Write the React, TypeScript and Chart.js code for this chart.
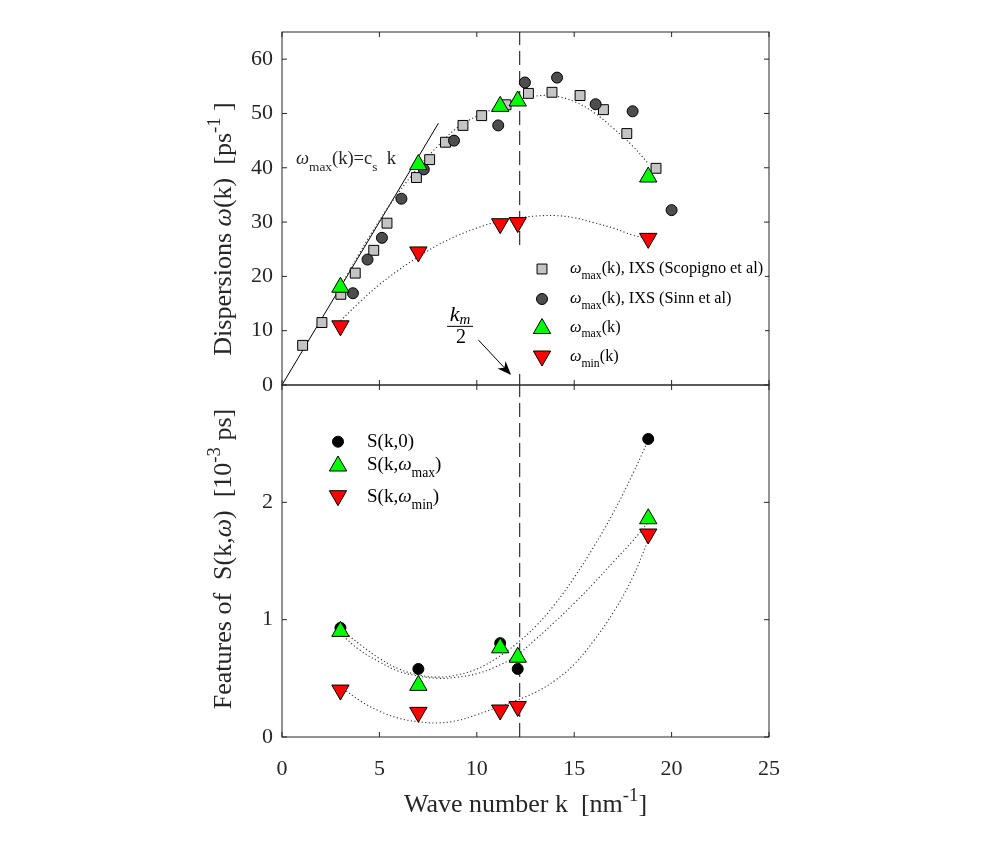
import React, { useEffect, useRef } from 'react';
import { Chart, registerables } from 'chart.js';

Chart.register(...registerables);

const SERIF = '"Liberation Serif", "Times New Roman", Times, serif';
const INK = '#262626';

// ---------- axes ----------
const kTicks = [0, 5, 10, 15, 20, 25];
const omegaTicks = [0, 10, 20, 30, 40, 50, 60];
const sTicks = [0, 1, 2];
const kRange = [0, 25];
const omegaRange = [0, 65];
const sRange = [0, 3];

// ---------- upper panel: dispersions ----------
const scopignoK = [1.06, 2.05, 3.02, 3.76, 4.71, 5.39, 6.9, 7.58, 8.39, 9.29, 10.25, 11.5, 12.65, 13.86, 15.3, 16.5, 17.7, 19.2];
const scopignoW = [7.3, 11.5, 16.7, 20.6, 24.8, 29.8, 38.2, 41.5, 44.7, 47.8, 49.6, 51.6, 53.7, 53.9, 53.3, 50.7, 46.3, 39.9];
const sinnK = [3.64, 4.39, 5.13, 6.13, 7.28, 8.83, 11.1, 12.47, 14.12, 16.1, 18.0, 20.0];
const sinnW = [16.9, 23.1, 27.1, 34.3, 39.7, 45.0, 47.8, 55.7, 56.6, 51.7, 50.4, 32.2];
const modelK = [3.0, 7.0, 11.2, 12.1, 18.8];
const omegaMaxVals = [18.0, 40.6, 51.3, 52.3, 38.3];
const omegaMinVals = [10.9, 24.5, 29.7, 29.9, 27.0];
const fitK = [3, 4, 5, 6, 7, 8, 9, 10, 11, 12, 13, 14, 15, 16, 17, 18, 18.8];
const omegaMaxFit = [18.1, 24.4, 30.3, 35.5, 40.1, 44.0, 47.4, 49.5, 51.0, 52.4, 53.2, 53.2, 52.2, 50.2, 47.3, 44.0, 40.8];
const omegaMinFit = [11.8, 15.3, 18.5, 21.2, 23.6, 25.8, 27.5, 28.9, 30.0, 30.7, 31.1, 31.2, 30.8, 29.9, 28.9, 27.6, 27.0];
const soundK = [0, 8.03];
const soundW = [0, 48.2];
const halfKm = 12.2;

// ---------- lower panel: S(k,w) features ----------
const s0Vals = [0.93, 0.58, 0.80, 0.58, 2.54];
const sMaxVals = [0.90, 0.44, 0.76, 0.68, 1.86];
const sMinVals = [0.40, 0.21, 0.23, 0.26, 1.73];
const s0Fit = [0.92, 0.79, 0.67, 0.58, 0.53, 0.51, 0.53, 0.58, 0.67, 0.79, 0.94, 1.13, 1.36, 1.62, 1.91, 2.24, 2.53];
const sMaxFit = [0.88, 0.74, 0.64, 0.56, 0.52, 0.50, 0.51, 0.54, 0.60, 0.69, 0.83, 0.98, 1.14, 1.31, 1.49, 1.67, 1.83];
const sMinFit = [0.43, 0.31, 0.22, 0.16, 0.13, 0.12, 0.14, 0.19, 0.25, 0.31, 0.38, 0.48, 0.62, 0.82, 1.06, 1.36, 1.68];

// ---------- annotation anchors (data coordinates) ----------
const soundLabelAt = [0.72, 40.7];
const fractionAt = [9.14, 10.8];
const arrowFrom = [10.08, 8.3];
const arrowTo = [11.76, 1.85];

type Seg = { t: string; sub?: boolean; sup?: boolean; it?: boolean };

const topLegend: Seg[][] = [
  [{ t: 'ω', it: true }, { t: 'max', sub: true }, { t: '(k), IXS (Scopigno et al)' }],
  [{ t: 'ω', it: true }, { t: 'max', sub: true }, { t: '(k), IXS (Sinn et al)' }],
  [{ t: 'ω', it: true }, { t: 'max', sub: true }, { t: '(k)' }],
  [{ t: 'ω', it: true }, { t: 'min', sub: true }, { t: '(k)' }],
];
const bottomLegend: Seg[][] = [
  [{ t: 'S(k,0)' }],
  [{ t: 'S(k,' }, { t: 'ω', it: true }, { t: 'max', sub: true }, { t: ')' }],
  [{ t: 'S(k,' }, { t: 'ω', it: true }, { t: 'min', sub: true }, { t: ')' }],
];
const soundLabel: Seg[] = [{ t: 'ω', it: true }, { t: 'max', sub: true }, { t: '(k)=c' }, { t: 's', sub: true }, { t: '  k' }];
const topYTitle: Seg[] = [{ t: 'Dispersions ' }, { t: 'ω', it: true }, { t: '(k)  [ps' }, { t: '-1', sup: true }, { t: ' ]' }];
const bottomYTitle: Seg[] = [{ t: 'Features of  S(k,' }, { t: 'ω', it: true }, { t: ')  [10' }, { t: '-3', sup: true }, { t: ' ps]' }];
const xTitle: Seg[] = [{ t: 'Wave number k  [nm' }, { t: '-1', sup: true }, { t: ']' }];

const zip = (xs: number[], ys: number[]) => xs.map((x, i) => ({ x, y: ys[i] }));

function segFont(s: Seg, size: number) {
  const sz = s.sub || s.sup ? size * 0.72 : size;
  return `${s.it ? 'italic ' : ''}${sz}px ${SERIF}`;
}
function measureRich(ctx: CanvasRenderingContext2D, segs: Seg[], size: number) {
  let w = 0;
  for (const s of segs) {
    ctx.font = segFont(s, size);
    w += ctx.measureText(s.t).width;
  }
  return w;
}
function drawRich(ctx: CanvasRenderingContext2D, segs: Seg[], x: number, baseline: number, size: number) {
  let cx = x;
  ctx.textAlign = 'left';
  ctx.textBaseline = 'alphabetic';
  for (const s of segs) {
    ctx.font = segFont(s, size);
    const dy = s.sub ? size * 0.36 : s.sup ? -size * 0.42 : 0;
    ctx.fillText(s.t, cx, baseline + dy);
    cx += ctx.measureText(s.t).width;
  }
  return cx;
}
function drawRotatedTitle(ctx: CanvasRenderingContext2D, segs: Seg[], cx: number, cy: number, size: number) {
  ctx.save();
  ctx.translate(cx, cy);
  ctx.rotate(-Math.PI / 2);
  ctx.fillStyle = INK;
  const w = measureRich(ctx, segs, size);
  drawRich(ctx, segs, -w / 2, size * 0.33, size);
  ctx.restore();
}
function drawMarker(ctx: CanvasRenderingContext2D, style: string, x: number, y: number, r: number, fill: string, down = false) {
  ctx.save();
  ctx.fillStyle = fill;
  ctx.strokeStyle = '#000';
  ctx.lineWidth = 1;
  ctx.beginPath();
  if (style === 'rect') {
    const s = r * Math.SQRT1_2;
    ctx.rect(x - s, y - s, 2 * s, 2 * s);
  } else if (style === 'circle') {
    ctx.arc(x, y, r, 0, Math.PI * 2);
  } else {
    const d = down ? -1 : 1;
    ctx.moveTo(x, y - d * r);
    ctx.lineTo(x + 0.866 * r, y + (d * r) / 2);
    ctx.lineTo(x - 0.866 * r, y + (d * r) / 2);
    ctx.closePath();
  }
  ctx.fill();
  ctx.stroke();
  ctx.restore();
}
function frameAndTicks(chart: any, yVals: number[]) {
  const { ctx, chartArea: a, scales } = chart;
  const xs = scales.x;
  const ys = scales.y;
  const L = 5;
  ctx.save();
  ctx.strokeStyle = INK;
  ctx.lineWidth = 1;
  ctx.strokeRect(a.left, a.top, a.right - a.left, a.bottom - a.top);
  ctx.beginPath();
  for (const v of kTicks) {
    const px = xs.getPixelForValue(v);
    ctx.moveTo(px, a.bottom);
    ctx.lineTo(px, a.bottom - L);
    ctx.moveTo(px, a.top);
    ctx.lineTo(px, a.top + L);
  }
  for (const v of yVals) {
    const py = ys.getPixelForValue(v);
    ctx.moveTo(a.left, py);
    ctx.lineTo(a.left + L, py);
    ctx.moveTo(a.right, py);
    ctx.lineTo(a.right - L, py);
  }
  ctx.stroke();
  ctx.restore();
}

const dotted = (data: { x: number; y: number }[]) => ({
  data,
  showLine: true,
  pointRadius: 0,
  borderColor: '#333',
  borderWidth: 1.1,
  borderDash: [1.2, 2.4],
  tension: 0.4,
  fill: false,
});
const dashedLine = (yMax: number) => ({
  data: [{ x: halfKm, y: 0 }, { x: halfKm, y: yMax }],
  showLine: true,
  pointRadius: 0,
  borderColor: '#333',
  borderWidth: 1.2,
  borderDash: [14, 6],
  fill: false,
});
const markers = (data: any, style: string, r: number, fill: string, rot = 0) => ({
  data,
  showLine: false,
  pointStyle: style,
  pointRadius: r,
  pointRotation: rot,
  pointBackgroundColor: fill,
  pointBorderColor: '#000',
  pointBorderWidth: 1,
});

const TRI = 10;
const SQ = 7;
const CIR = 5.5;
const tickFont = { family: SERIF, size: 22 };

function yScale(range: number[], ticks: number[]) {
  return {
    type: 'linear',
    position: 'left',
    min: range[0],
    max: range[1],
    afterBuildTicks: (s: any) => {
      s.ticks = ticks.map((v) => ({ value: v }));
    },
    afterFit: (s: any) => {
      s.width = 282;
    },
    ticks: { font: tickFont, color: INK, padding: 9 },
    grid: { display: false, drawTicks: false },
    border: { display: false },
  };
}

const topPlugin = {
  id: 'topDecor',
  afterDatasetsDraw(chart: any) {
    const { ctx, chartArea: a, scales } = chart;
    const xs = scales.x;
    const ys = scales.y;
    frameAndTicks(chart, omegaTicks);

    ctx.save();
    ctx.fillStyle = INK;
    // c_s k annotation
    drawRich(ctx, soundLabel, xs.getPixelForValue(soundLabelAt[0]), ys.getPixelForValue(soundLabelAt[1]), 18.5);

    // k_m / 2 fraction
    const fx = xs.getPixelForValue(fractionAt[0]);
    const fy = ys.getPixelForValue(fractionAt[1]);
    ctx.fillStyle = '#000';
    ctx.textAlign = 'left';
    ctx.textBaseline = 'alphabetic';
    ctx.font = `italic 22px ${SERIF}`;
    const kw = ctx.measureText('k').width;
    ctx.font = `italic 15px ${SERIF}`;
    const mw = ctx.measureText('m').width;
    const nx0 = fx - (kw + mw) / 2;
    ctx.font = `italic 22px ${SERIF}`;
    ctx.fillText('k', nx0, fy - 5);
    ctx.font = `italic 15px ${SERIF}`;
    ctx.fillText('m', nx0 + kw, fy - 2.5);
    ctx.font = `20px ${SERIF}`;
    ctx.textAlign = 'center';
    ctx.fillText('2', fx + 1, fy + 16.5);
    ctx.fillRect(fx - 13, fy - 0.5, 26, 1);

    // arrow
    const x0 = xs.getPixelForValue(arrowFrom[0]);
    const y0 = ys.getPixelForValue(arrowFrom[1]);
    const x1 = xs.getPixelForValue(arrowTo[0]);
    const y1 = ys.getPixelForValue(arrowTo[1]);
    const ang = Math.atan2(y1 - y0, x1 - x0);
    const hl = 14;
    const hw = 5.5;
    ctx.strokeStyle = '#000';
    ctx.lineWidth = 1;
    ctx.beginPath();
    ctx.moveTo(x0, y0);
    ctx.lineTo(x1 - Math.cos(ang) * hl * 0.6, y1 - Math.sin(ang) * hl * 0.6);
    ctx.stroke();
    ctx.beginPath();
    const bx = x1 - Math.cos(ang) * hl;
    const by = y1 - Math.sin(ang) * hl;
    const nx = -Math.sin(ang);
    const ny = Math.cos(ang);
    ctx.moveTo(x1, y1);
    ctx.lineTo(bx + nx * hw, by + ny * hw);
    ctx.lineTo(x1 - Math.cos(ang) * hl * 0.7, y1 - Math.sin(ang) * hl * 0.7);
    ctx.lineTo(bx - nx * hw, by - ny * hw);
    ctx.closePath();
    ctx.fill();

    // legend
    ctx.fillStyle = '#fff';
    ctx.fillRect(a.left + 233, a.top + 218, 250, 124);
    const rows = [237, 267, 295.5, 325];
    const mx = a.left + 260;
    drawMarker(ctx, 'rect', mx, a.top + rows[0], SQ, '#c4c4c4');
    drawMarker(ctx, 'circle', mx, a.top + rows[1], CIR, '#4d4d4d');
    drawMarker(ctx, 'triangle', mx, a.top + rows[2] + 1, TRI, '#00ff00');
    drawMarker(ctx, 'triangle', mx, a.top + rows[3] - 1, TRI, '#ff0000', true);
    ctx.fillStyle = '#000';
    topLegend.forEach((segs, i) => drawRich(ctx, segs, a.left + 288, a.top + rows[i] + 4, 16.3));
    ctx.restore();
  },
  afterDraw(chart: any) {
    const { ctx, chartArea: a } = chart;
    drawRotatedTitle(ctx, topYTitle, a.left - 60, 229, 26);
  },
};

const bottomPlugin = {
  id: 'bottomDecor',
  afterDatasetsDraw(chart: any) {
    const { ctx, chartArea: a } = chart;
    frameAndTicks(chart, sTicks);
    ctx.save();
    const rows = [56.7, 80, 111.7];
    const mx = a.left + 56;
    drawMarker(ctx, 'circle', mx, a.top + rows[0], CIR, '#000');
    drawMarker(ctx, 'triangle', mx, a.top + rows[1] + 1, TRI, '#00ff00');
    drawMarker(ctx, 'triangle', mx, a.top + rows[2] - 1, TRI, '#ff0000', true);
    ctx.fillStyle = '#000';
    bottomLegend.forEach((segs, i) => drawRich(ctx, segs, a.left + 85, a.top + rows[i] + 5, 19));
    ctx.restore();
  },
  afterDraw(chart: any) {
    const { ctx, chartArea: a } = chart;
    drawRotatedTitle(ctx, bottomYTitle, a.left - 60, a.top + 174, 26);
    ctx.save();
    ctx.fillStyle = INK;
    const w = measureRich(ctx, xTitle, 26);
    drawRich(ctx, xTitle, (a.left + a.right) / 2 - w / 2, a.bottom + 75, 26);
    ctx.restore();
  },
};

function topConfig(): any {
  return {
    type: 'scatter',
    data: {
      datasets: [
        markers(zip(modelK, omegaMinVals), 'triangle', TRI, '#ff0000', 180),
        markers(zip(modelK, omegaMaxVals), 'triangle', TRI, '#00ff00'),
        markers(zip(sinnK, sinnW), 'circle', CIR, '#4d4d4d'),
        markers(zip(scopignoK, scopignoW), 'rect', SQ, '#c4c4c4'),
        dotted(zip(fitK, omegaMaxFit)),
        dotted(zip(fitK, omegaMinFit)),
        { data: zip(soundK, soundW), showLine: true, pointRadius: 0, borderColor: '#000', borderWidth: 1, fill: false },
        dashedLine(omegaRange[1]),
      ],
    },
    options: {
      responsive: false,
      animation: false,
      events: [],
      layout: { padding: { left: 0, right: 228, top: 32, bottom: 30 } },
      plugins: { legend: { display: false }, tooltip: { enabled: false } },
      scales: {
        x: { type: 'linear', min: kRange[0], max: kRange[1], display: false },
        y: yScale(omegaRange, omegaTicks),
      },
    },
    plugins: [topPlugin],
  };
}

function bottomConfig(): any {
  return {
    type: 'scatter',
    data: {
      datasets: [
        markers(zip(modelK, sMinVals), 'triangle', TRI, '#ff0000', 180),
        markers(zip(modelK, sMaxVals), 'triangle', TRI, '#00ff00'),
        markers(zip(modelK, s0Vals), 'circle', CIR, '#000'),
        dotted(zip(fitK, s0Fit)),
        dotted(zip(fitK, sMaxFit)),
        dotted(zip(fitK, sMinFit)),
        dashedLine(sRange[1]),
      ],
    },
    options: {
      responsive: false,
      animation: false,
      events: [],
      layout: { padding: { left: 0, right: 228, top: 30, bottom: 0 } },
      plugins: { legend: { display: false }, tooltip: { enabled: false } },
      scales: {
        x: {
          type: 'linear',
          min: kRange[0],
          max: kRange[1],
          afterBuildTicks: (s: any) => {
            s.ticks = kTicks.map((v) => ({ value: v }));
          },
          afterFit: (s: any) => {
            s.height = 116;
          },
          ticks: { font: tickFont, color: INK, padding: 19, maxRotation: 0 },
          grid: { display: false, drawTicks: false },
          border: { display: false },
        },
        y: yScale(sRange, sTicks),
      },
    },
    plugins: [bottomPlugin],
  };
}

export default function App() {
  const topRef = useRef<HTMLCanvasElement>(null);
  const botRef = useRef<HTMLCanvasElement>(null);
  useEffect(() => {
    const top = new Chart(topRef.current as HTMLCanvasElement, topConfig());
    const bot = new Chart(botRef.current as HTMLCanvasElement, bottomConfig());
    return () => {
      top.destroy();
      bot.destroy();
    };
  }, []);
  return (
    <div style={{ position: 'fixed', left: 0, top: 0, width: 997, height: 853, background: '#fff', overflow: 'hidden' }}>
      <canvas ref={topRef} width={997} height={415} style={{ position: 'absolute', left: 0, top: 0, width: 997, height: 415 }} />
      <canvas ref={botRef} width={997} height={498} style={{ position: 'absolute', left: 0, top: 355, width: 997, height: 498 }} />
    </div>
  );
}
